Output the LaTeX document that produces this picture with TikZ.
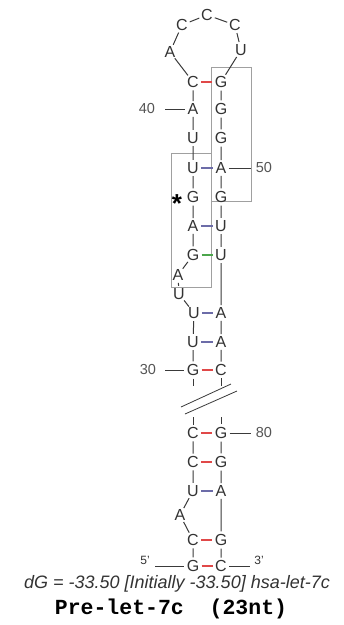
\documentclass[tikz,border=0pt]{standalone}
\usepackage{fontspec}
\setmainfont{Liberation Sans}
\newfontfamily\titlefont{Liberation Mono}
\definecolor{txt}{HTML}{333333}
\definecolor{bb}{HTML}{3A3A3A}
\definecolor{numc}{HTML}{555555}
\definecolor{gcred}{HTML}{E04848}
\definecolor{aublue}{HTML}{6C6CA8}
\definecolor{gugreen}{HTML}{4CA64C}
\definecolor{boxc}{HTML}{A0A0A0}
\begin{document}
\begin{tikzpicture}[x=1pt,y=-1pt,
  nt/.style={circle,inner sep=0pt,minimum size=13pt,text=txt,font=\fontsize{16}{16}\selectfont},
  num/.style={inner sep=0pt,text=numc,font=\fontsize{14.5}{14.5}\selectfont},
  endl/.style={inner sep=0pt,text=txt,font=\fontsize{12}{12}\selectfont},
  bbone/.style={draw=bb,line width=1pt},
  gc/.style={draw=gcred,line width=1.3pt},
  au/.style={draw=aublue,line width=1.3pt},
  gu/.style={draw=gugreen,line width=1.3pt},
  frame/.style={draw=boxc,line width=0.8pt}]
\useasboundingbox (0,0) rectangle (344,625);
\fill[white] (0,0) rectangle (344,625);
% boxes
\draw[frame] (211,67) rectangle (251,201);
\draw[frame] (171,153) rectangle (211,287);
% upper part
\node[nt] (n30) at (193,370) {G};
\node[nt] (n31) at (193,342) {U};
\node[nt] (n32) at (194,313) {U};
\node[nt] (n33) at (179,294) {U};
\node[nt] (n34) at (178,275) {A};
\node[nt] (n35) at (193,255) {G};
\node[nt] (n36) at (193,226) {A};
\node[nt] (n37) at (193,197) {G};
\node[nt] (n38) at (193,168) {U};
\node[nt] (n39) at (193,138) {U};
\node[nt] (n40) at (193,109) {A};
\node[nt] (n41) at (193,82) {C};
\node[nt] (n42) at (170,52) {A};
\node[nt] (n43) at (182,25) {C};
\node[nt] (n44) at (207,15) {C};
\node[nt] (n45) at (235,25) {C};
\node[nt] (n46) at (241,50) {U};
\node[nt] (n47) at (221,82) {G};
\node[nt] (n48) at (221,109) {G};
\node[nt] (n49) at (221,138) {G};
\node[nt] (n50) at (221,168) {A};
\node[nt] (n51) at (221,197) {G};
\node[nt] (n52) at (221,226) {U};
\node[nt] (n53) at (221,255) {U};
\node[nt] (n54) at (221,313) {A};
\node[nt] (n55) at (221,342) {A};
\node[nt] (n56) at (221,370) {C};
% lower part
\node[nt] (n6) at (193,433) {C};
\node[nt] (n5) at (193,462) {C};
\node[nt] (n4) at (193,491) {U};
\node[nt] (n3) at (180,515) {A};
\node[nt] (n2) at (193,540) {C};
\node[nt] (n1) at (193,566) {G};
\node[nt] (n80) at (221,433) {G};
\node[nt] (n81) at (221,462) {G};
\node[nt] (n82) at (221,491) {A};
\node[nt] (n83) at (221,540) {G};
\node[nt] (n84) at (221,566) {C};
% star
\node[inner sep=0pt,font=\fontsize{26}{26}\selectfont\bfseries] (star) at (177,204) {*};
% backbone
\draw[bbone] (n30)--(n31) (n31)--(n32) (n32)--(n33) (n33)--(n34) (n34)--(n35)
  (n35)--(n36) (n36)--(n37) (n37)--(n38) (n38)--(n39) (n39)--(n40) (n40)--(n41)
  (n41)--(n42) (n42)--(n43) (n43)--(n44) (n44)--(n45) (n45)--(n46) (n46)--(n47)
  (n47)--(n48) (n48)--(n49) (n49)--(n50) (n50)--(n51) (n51)--(n52) (n52)--(n53)
  (n53)--(n54) (n54)--(n55) (n55)--(n56);
\draw[bbone] (n1)--(n2) (n2)--(n3) (n3)--(n4) (n4)--(n5) (n5)--(n6)
  (n80)--(n81) (n81)--(n82) (n82)--(n83) (n83)--(n84);
% break ticks
\coordinate (bL1) at (193,386);
\coordinate (bR1) at (221,386);
\coordinate (bL2) at (193,417);
\coordinate (bR2) at (221,417);
\draw[bbone] (n30)--(bL1) (n56)--(bR1) (bL2)--(n6) (bR2)--(n80);
\coordinate (s1a) at (181,407);
\coordinate (s1b) at (231,384);
\coordinate (s2a) at (185,414);
\coordinate (s2b) at (237,391);
\draw[bb,line width=0.8pt] (s1a)--(s1b) (s2a)--(s2b);
% pairs
\draw[gc] (n41)--(n47) (n30)--(n56) (n6)--(n80) (n5)--(n81) (n2)--(n83) (n1)--(n84);
\draw[au] (n38)--(n50) (n36)--(n52) (n32)--(n54) (n31)--(n55) (n4)--(n82);
\draw[gu] (n35)--(n53);
% number labels
\node[num] (l40) at (147,109) {40};
\coordinate (t40) at (165,109);
\draw[bbone] (t40)--(n40);
\node[num] (l50) at (264,168) {50};
\coordinate (t50) at (251,168);
\draw[bbone] (n50)--(t50);
\node[num] (l30) at (148,370) {30};
\coordinate (t30) at (165,370);
\draw[bbone] (t30)--(n30);
\node[num] (l80) at (264,433) {80};
\coordinate (t80) at (251,433);
\draw[bbone] (n80)--(t80);
\node[endl] (l5) at (145,560) {5'};
\coordinate (t5) at (155,566);
\draw[bbone] (t5)--(n1);
\node[endl] (l3) at (259,560) {3'};
\coordinate (t3) at (250,566);
\draw[bbone] (n84)--(t3);
% captions
\node[inner sep=0pt,text=txt,font=\fontsize{18}{18}\selectfont\itshape] (dg) at (177,584) {dG = -33.50 [Initially -33.50] hsa-let-7c};
\node[inner sep=0pt,text=black,font=\fontsize{21.5}{21.5}\selectfont\titlefont\bfseries] (title) at (171,609) {Pre-let-7c~~(23nt)};
\end{tikzpicture}
\end{document}
